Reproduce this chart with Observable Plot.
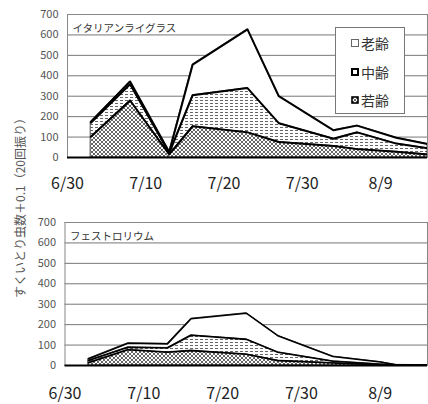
<!DOCTYPE html>
<html><head><meta charset="utf-8">
<script src="https://cdn.jsdelivr.net/npm/d3@7"></script>
<script src="https://cdn.jsdelivr.net/npm/@observablehq/plot@0.6"></script>
<style>
body{margin:0;background:#fff;width:428px;height:404px;position:relative;overflow:hidden;font-family:"Noto Sans CJK JP",sans-serif;}
#top{position:absolute;left:0;top:0}
#bot{position:absolute;left:0;top:200px}
#ylab{position:absolute;left:20px;top:205px;transform:translate(-50%,-50%) rotate(-90deg);white-space:nowrap;font-size:12px;color:#555;line-height:1;}
#legend{position:absolute;left:335px;top:27px;width:70px;height:87px;border:1px solid #777;background:#fff;box-sizing:border-box;}
.li{position:absolute;left:15px;font-size:14px;color:#333;line-height:1;display:flex;align-items:center;}
.li svg{margin-right:2px}
</style>
</head><body>
<svg width="0" height="0" style="position:absolute">
<defs>
<pattern id="hatch" width="4" height="4" patternUnits="userSpaceOnUse">
<rect width="4" height="4" fill="#fff"/>
<path d="M0,0L4,4M4,0L0,4" stroke="#555" stroke-width="0.9"/>
</pattern>
<pattern id="dash" width="5" height="3" patternUnits="userSpaceOnUse">
<rect width="5" height="3" fill="#fff"/>
<path d="M0,1.5H3" stroke="#555" stroke-width="0.9"/>
</pattern>
</defs></svg>
<div id="top"></div>
<div id="bot"></div>
<div id="ylab">すくいとり虫数＋0.1（20回振り）</div>
<div id="legend"></div>
<script>
// ---- data ----
const stages = ["若齢", "中齢", "老齢"];
const stageFills = ["url(#hatch)", "url(#dash)", "#fff"];
const panelTitles = ["イタリアンライグラス", "フェストロリウム"];

const italianDates = ["7/3","7/8","7/13","7/16","7/23","7/27","8/3","8/6","8/11","8/15"];
const italianYoung = [102, 279, 15, 153, 123, 76, 56, 41, 28, 15];
const italianMid   = [68, 79, 7, 152, 217, 92, 36, 82, 40, 30];
const italianOld   = [5, 14, 5, 150, 287, 132, 41, 33, 29, 21];

const festDates = ["7/3","7/8","7/13","7/16","7/23","7/27","8/3","8/9","8/11","8/15"];
const festYoung = [14, 77, 65, 73, 55, 24, 12, 3, 1, 1];
const festMid   = [10, 12, 21, 75, 73, 41, 9, 3, 1, 0];
const festOld   = [9, 20, 20, 81, 128, 81, 23, 11, 1, 1];

const xTickLabels = ["6/30","7/10","7/20","7/30","8/9"];
const xDomainLabels = ["6/30","8/15"];
const yTicks = [0,100,200,300,400,500,600,700];

// ---- helpers ----
function md(s){const [m,d]=s.split("/").map(Number);return new Date(2010,m-1,d);}
function tidy(dates, young, mid, old){
  const rows=[];
  [young, mid, old].forEach((vals,k)=>vals.forEach((v,i)=>rows.push({date:md(dates[i]),stage:stages[k],value:v})));
  return rows;
}
function chart(rows, title, opt){
  return Plot.plot({
    width:428, height:opt.height,
    marginLeft:opt.ml, marginRight:1, marginTop:opt.mt, marginBottom:opt.mb,
    style:{fontFamily:'"Noto Sans CJK JP", sans-serif', background:"transparent"},
    x:{type:"utc", domain:xDomainLabels.map(md)},
    y:{domain:[0,700]},
    color:{domain:stages, range:stageFills},
    marks:[
      Plot.ruleY(yTicks.slice(1), {stroke:"#777", strokeWidth:1}),
      Plot.areaY(rows, Plot.stackY({x:"date", y:"value", z:"stage", fill:"stage", stroke:"#222", strokeWidth:0.8})),
      Plot.lineY(rows, Plot.stackY2({x:"date", y:"value", z:"stage", stroke:"#000", strokeWidth:opt.lw})),
      Plot.frame({stroke:"#888"}),
      Plot.ruleY([0], {stroke:"#000", strokeWidth:2}),
      Plot.axisY({ticks:yTicks, tickSize:0, tickPadding:9, fontSize:11, fill:"#555", label:null}),
      Plot.axisX({ticks:xTickLabels.map(md), tickFormat:d=>(d.getMonth()+1)+"/"+d.getDate(), tickSize:0, tickPadding:opt.tp, fontSize:16, fill:"#222", label:null}),
      Plot.text([title], {frameAnchor:"top-left", text:d=>d, dx:5, dy:14, textAnchor:"start", lineAnchor:"middle", fontSize:10.5, fill:"#333"})
    ]
  });
}
// local-time dates -> use default (time) scale instead of utc
function chart2(rows,title,opt){return chart(rows,title,opt);}

const italian = tidy(italianDates, italianYoung, italianMid, italianOld);
const fest = tidy(festDates, festYoung, festMid, festOld);

document.getElementById("top").append(chart(italian, panelTitles[0], {height:200, ml:67, mt:14, mb:43, lw:2, tp:20}));
document.getElementById("bot").append(chart(fest, panelTitles[1], {height:204, ml:64.5, mt:22, mb:39, lw:1.6, tp:22}));

// legend
const legend = document.getElementById("legend");
const marker = {
  "老齢":'<svg width="8" height="8"><rect x="0.5" y="0.5" width="7" height="7" fill="#fff" stroke="#666"/></svg>',
  "中齢":'<svg width="8" height="8"><rect x="1" y="1" width="6" height="6" fill="#fff" stroke="#000" stroke-width="2"/></svg>',
  "若齢":'<svg width="8" height="8"><rect x="1" y="1" width="6" height="6" fill="url(#hatch)" stroke="#000" stroke-width="1.6"/></svg>'
};
[...stages].reverse().forEach((s,i)=>{
  const d=document.createElement("div");
  d.className="li"; d.style.top=(8+i*28.5)+"px";
  d.innerHTML=marker[s]+"<span>"+s+"</span>";
  legend.append(d);
});
</script>
</body></html>
